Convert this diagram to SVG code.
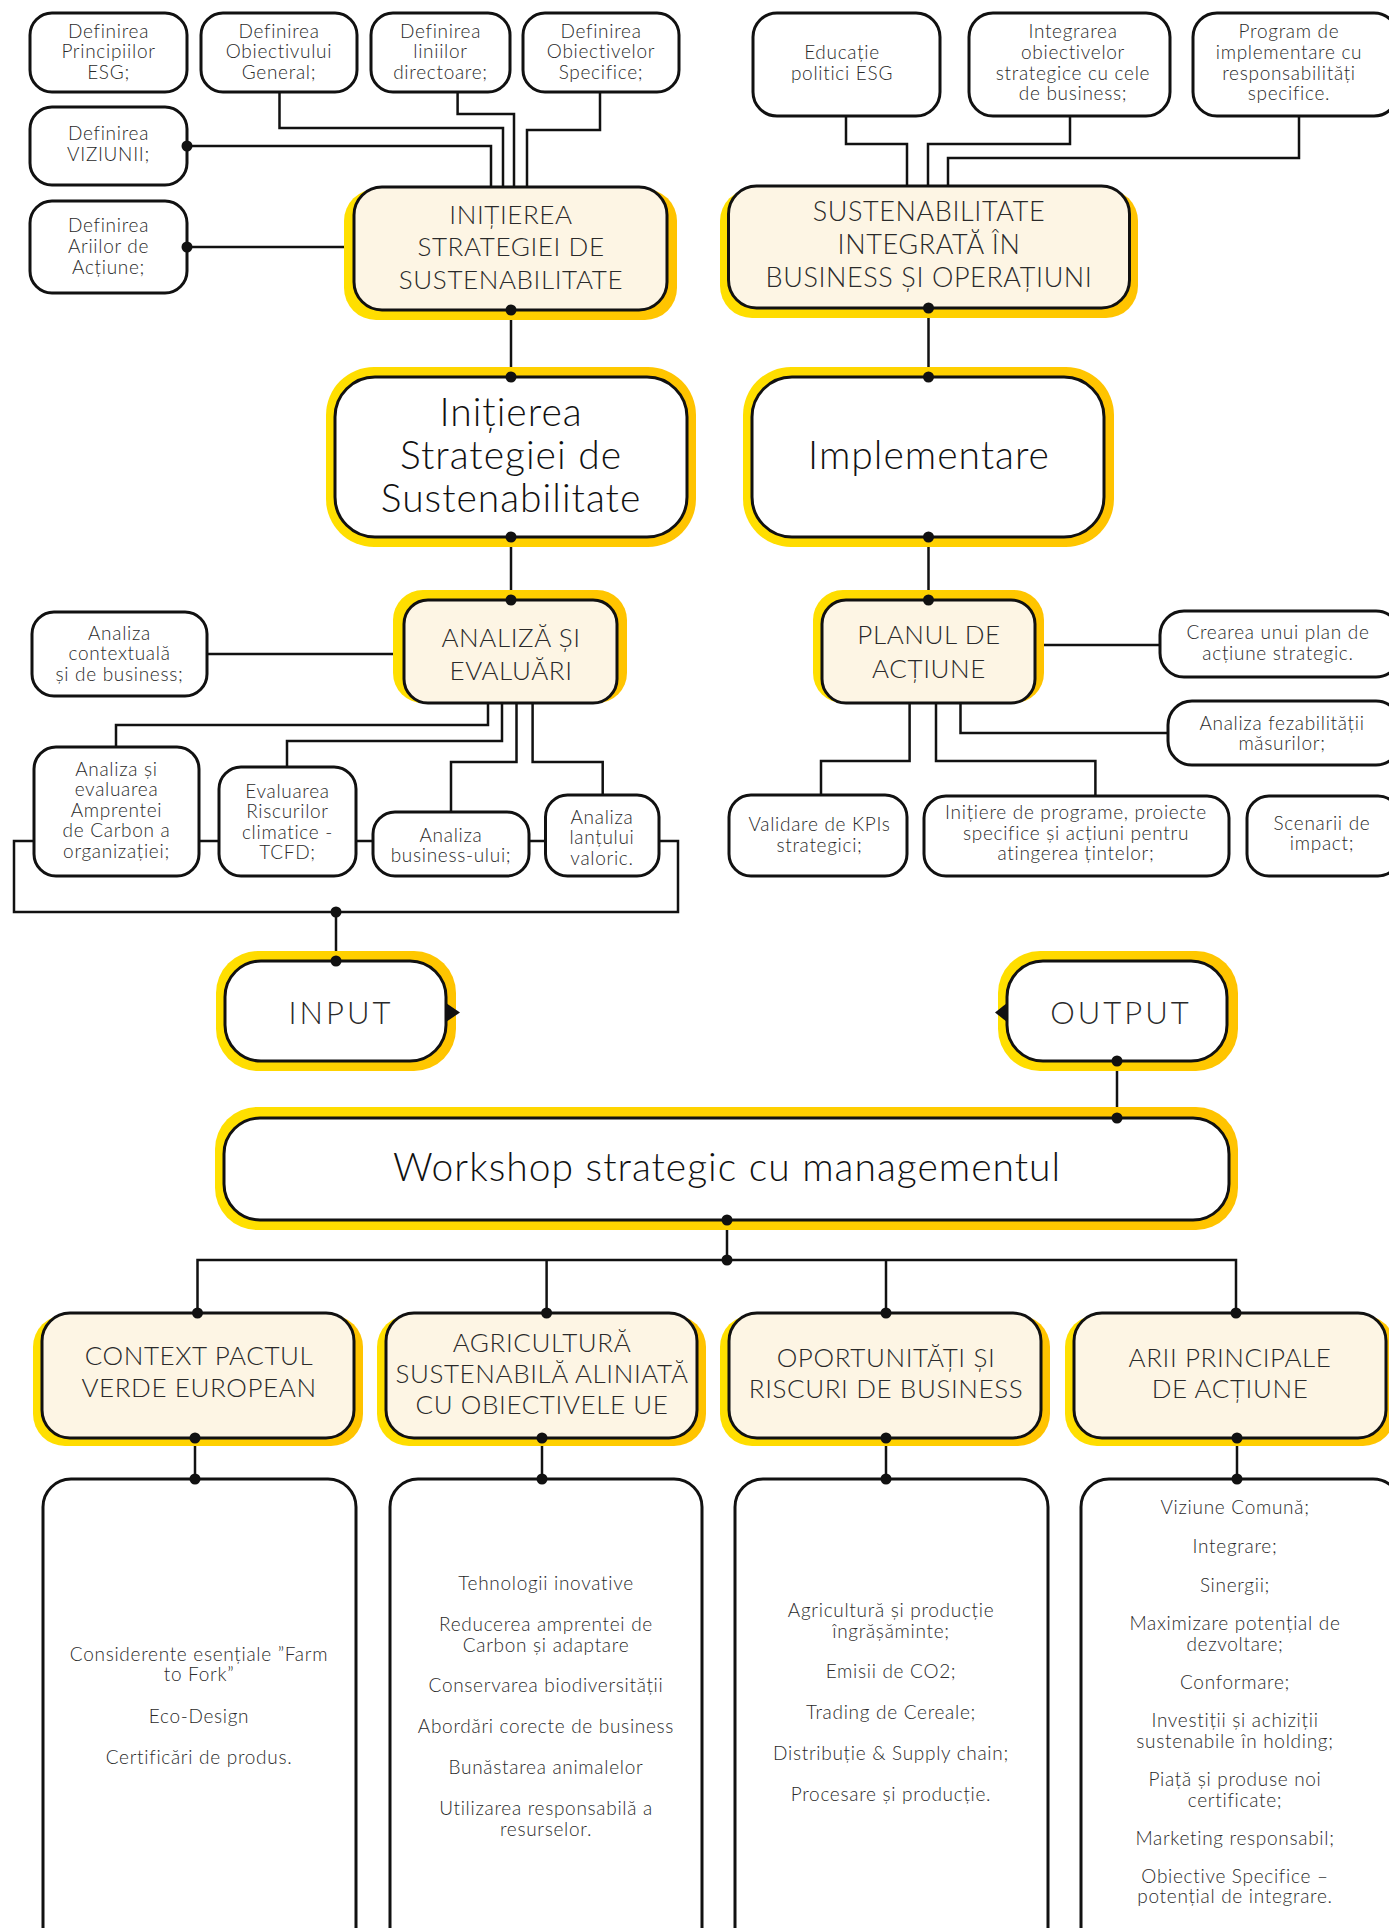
<svg xmlns="http://www.w3.org/2000/svg" width="1389" height="1928" viewBox="0 0 1389 1928">
<defs>
<linearGradient id="yg" x1="0" y1="0" x2="1" y2="0">
<stop offset="0" stop-color="#FFE000"/>
<stop offset="1" stop-color="#FFC300"/>
</linearGradient>
<style>
.box{fill:#fff;stroke:#111;stroke-width:3}
.cat{fill:#FDF5E4;stroke:#111;stroke-width:3}
.glow{fill:url(#yg)}
.t{font-family:Lato,'Noto Sans',sans-serif;font-weight:300;fill:#2a2a2a;text-anchor:middle;dominant-baseline:central}
.s{font-size:19px;letter-spacing:0.7px}
.m{font-size:26px;letter-spacing:0.6px}
.l{font-size:39px;letter-spacing:1px;fill:#111}
.io{font-size:31px;letter-spacing:3px}
.conn{fill:none;stroke:#111;stroke-width:2.5}
.dot{fill:#111}
</style>
</defs>
<rect width="1389" height="1928" fill="#fff"/>

<g id="connectors">
<path class="conn" d="M279.5,92 V128 H503 V187"/>
<path class="conn" d="M457.6,92 V114 H514 V187"/>
<path class="conn" d="M600,92 V130 H527 V187"/>
<path class="conn" d="M187,146 H491 V187"/>
<path class="conn" d="M187,247 H354"/>
<path class="conn" d="M511,310 V377"/>
<path class="conn" d="M511,537 V600"/>
<path class="conn" d="M846,116 V144 H907 V185"/>
<path class="conn" d="M1070,116 V144 H928 V185"/>
<path class="conn" d="M1299,116 V158 H948 V185"/>
<path class="conn" d="M928.5,308 V377"/>
<path class="conn" d="M928.5,537 V600"/>
<path class="conn" d="M207,654 H404"/>
<path class="conn" d="M488,703 V725 H116 V747"/>
<path class="conn" d="M502,703 V741 H287 V767"/>
<path class="conn" d="M516.5,703 V762 H451 V812"/>
<path class="conn" d="M532.6,703 V762 H602.7 V795"/>
<path class="conn" d="M14,841 H678 V912 H14 Z"/>
<path class="conn" d="M336,912 V961"/>
<path class="conn" d="M1035,645 H1160"/>
<path class="conn" d="M960.5,703 V733 H1168"/>
<path class="conn" d="M909.6,703 V761 H821 V795"/>
<path class="conn" d="M936,703 V761 H1095.4 V796"/>
<path class="conn" d="M1117,1061 V1118"/>
<path class="conn" d="M727,1220 V1260"/>
<path class="conn" d="M197.5,1313 V1260 H1236 V1313"/>
<path class="conn" d="M546.6,1260 V1313"/>
<path class="conn" d="M886,1260 V1313"/>
<path class="conn" d="M195,1438 V1479"/>
<path class="conn" d="M542,1438 V1479"/>
<path class="conn" d="M886,1438 V1479"/>
<path class="conn" d="M1237,1438 V1479"/>
</g>

<g id="n-princ"><rect class="box" x="30" y="13" width="157" height="79" rx="22"/>
<text class="t s"><tspan x="108.5" y="29.5">Definirea</tspan><tspan x="108.5" y="50">Principiilor</tspan><tspan x="108.5" y="70.5">ESG;</tspan></text></g>
<g id="n-obgen"><rect class="box" x="201" y="13" width="156" height="79" rx="22"/>
<text class="t s"><tspan x="279" y="29.5">Definirea</tspan><tspan x="279" y="50">Obiectivului</tspan><tspan x="279" y="70.5">General;</tspan></text></g>
<g id="n-linii"><rect class="box" x="371" y="13" width="139" height="79" rx="22"/>
<text class="t s"><tspan x="440.5" y="29.5">Definirea</tspan><tspan x="440.5" y="50">liniilor</tspan><tspan x="440.5" y="70.5">directoare;</tspan></text></g>
<g id="n-obspec"><rect class="box" x="523" y="13" width="156" height="79" rx="22"/>
<text class="t s"><tspan x="601" y="29.5">Definirea</tspan><tspan x="601" y="50">Obiectivelor</tspan><tspan x="601" y="70.5">Specifice;</tspan></text></g>
<g id="n-viziune"><rect class="box" x="30" y="107" width="157" height="78" rx="22"/>
<text class="t s"><tspan x="108.5" y="132">Definirea</tspan><tspan x="108.5" y="152.5">VIZIUNII;</tspan></text></g>
<g id="n-arii"><rect class="box" x="30" y="201" width="157" height="92" rx="22"/>
<text class="t s"><tspan x="108.5" y="224">Definirea</tspan><tspan x="108.5" y="245">Ariilor de</tspan><tspan x="108.5" y="265.5">Acțiune;</tspan></text></g>

<g id="n-initierea-caps"><rect class="glow" x="344" y="189" width="333" height="131" rx="32"/>
<rect class="cat" x="354" y="187" width="313" height="123" rx="28"/>
<text class="t m"><tspan x="511" y="214">INIȚIEREA</tspan><tspan x="511" y="246">STRATEGIEI DE</tspan><tspan x="511" y="279">SUSTENABILITATE</tspan></text></g>

<g id="n-educatie"><rect class="box" x="753" y="13" width="187" height="103" rx="24"/>
<text class="t s"><tspan x="842" y="51">Educație</tspan><tspan x="842" y="71.5">politici ESG</tspan></text></g>
<g id="n-integrarea"><rect class="box" x="969" y="13" width="201" height="103" rx="24"/>
<text class="t s"><tspan x="1073" y="29.5">Integrarea</tspan><tspan x="1073" y="50.5">obiectivelor</tspan><tspan x="1073" y="71.5">strategice cu cele</tspan><tspan x="1073" y="92">de business;</tspan></text></g>
<g id="n-program"><rect class="box" x="1193" y="13" width="205" height="103" rx="24"/>
<text class="t s"><tspan x="1289" y="29.5">Program de</tspan><tspan x="1289" y="50.5">implementare cu</tspan><tspan x="1289" y="71.5">responsabilități</tspan><tspan x="1289" y="92">specifice.</tspan></text></g>

<g id="n-sust"><rect class="glow" x="720" y="189" width="418" height="129" rx="32"/>
<rect class="cat" x="728.5" y="186" width="401" height="122" rx="28"/>
<text class="t m" style="font-size:27px"><tspan x="929" y="210">SUSTENABILITATE</tspan><tspan x="929" y="243">INTEGRATĂ ÎN</tspan><tspan x="929" y="276">BUSINESS ȘI OPERAȚIUNI</tspan></text></g>

<g id="n-initierea-big"><rect class="glow" x="326" y="367" width="370" height="180" rx="48"/>
<rect class="box" x="335" y="377" width="352" height="160" rx="40"/>
<text class="t l"><tspan x="511" y="411">Inițierea</tspan><tspan x="511" y="454">Strategiei de</tspan><tspan x="511" y="497">Sustenabilitate</tspan></text></g>

<g id="n-implementare"><rect class="glow" x="743" y="367" width="371" height="180" rx="48"/>
<rect class="box" x="752" y="377" width="352" height="160" rx="40"/>
<text class="t l" x="929" y="454">Implementare</text></g>

<g id="n-analiza"><rect class="glow" x="393" y="590" width="234" height="113" rx="30"/>
<rect class="cat" x="404" y="600" width="213" height="103" rx="24"/>
<text class="t m"><tspan x="511" y="637">ANALIZĂ ȘI</tspan><tspan x="511" y="670">EVALUĂRI</tspan></text></g>

<g id="n-contextuala"><rect class="box" x="32" y="612" width="175" height="84" rx="22"/>
<text class="t s"><tspan x="119.5" y="631.5">Analiza</tspan><tspan x="119.5" y="652">contextuală</tspan><tspan x="119.5" y="672.5">și de business;</tspan></text></g>
<g id="n-amprenta"><rect class="box" x="34" y="747" width="165" height="129" rx="22"/>
<text class="t s"><tspan x="116.5" y="767.5">Analiza și</tspan><tspan x="116.5" y="788">evaluarea</tspan><tspan x="116.5" y="808.5">Amprentei</tspan><tspan x="116.5" y="829">de Carbon a</tspan><tspan x="116.5" y="849.5">organizației;</tspan></text></g>
<g id="n-riscuri"><rect class="box" x="219" y="767" width="137" height="109" rx="22"/>
<text class="t s"><tspan x="287.5" y="789.5">Evaluarea</tspan><tspan x="287.5" y="810">Riscurilor</tspan><tspan x="287.5" y="830.5">climatice -</tspan><tspan x="287.5" y="851">TCFD;</tspan></text></g>
<g id="n-business"><rect class="box" x="373" y="812" width="156" height="64" rx="22"/>
<text class="t s"><tspan x="451" y="833.5">Analiza</tspan><tspan x="451" y="854">business-ului;</tspan></text></g>
<g id="n-lant"><rect class="box" x="545.5" y="795" width="113.5" height="81" rx="22"/>
<text class="t s"><tspan x="602" y="815.5">Analiza</tspan><tspan x="602" y="836">lanțului</tspan><tspan x="602" y="856.5">valoric.</tspan></text></g>

<g id="n-planul"><rect class="glow" x="813" y="590" width="231" height="113" rx="30"/>
<rect class="cat" x="822" y="600" width="213" height="103" rx="24"/>
<text class="t m"><tspan x="929" y="634">PLANUL DE</tspan><tspan x="929" y="668">ACȚIUNE</tspan></text></g>

<g id="n-crearea"><rect class="box" x="1160" y="611" width="240" height="66" rx="24"/>
<text class="t s"><tspan x="1278" y="631">Crearea unui plan de</tspan><tspan x="1278" y="651.5">acțiune strategic.</tspan></text></g>
<g id="n-fezab"><rect class="box" x="1168" y="701" width="232" height="64" rx="24"/>
<text class="t s"><tspan x="1282" y="721.5">Analiza fezabilității</tspan><tspan x="1282" y="742">măsurilor;</tspan></text></g>
<g id="n-kpi"><rect class="box" x="729" y="795" width="178" height="81" rx="22"/>
<text class="t s"><tspan x="819.5" y="823">Validare de KPIs</tspan><tspan x="819.5" y="843.5">strategici;</tspan></text></g>
<g id="n-initiere"><rect class="box" x="924" y="796" width="305" height="80" rx="22"/>
<text class="t s"><tspan x="1076" y="811">Inițiere de programe, proiecte</tspan><tspan x="1076" y="831.5">specifice și acțiuni pentru</tspan><tspan x="1076" y="852">atingerea țintelor;</tspan></text></g>
<g id="n-scenarii"><rect class="box" x="1247" y="796" width="153" height="80" rx="22"/>
<text class="t s"><tspan x="1322" y="821.5">Scenarii de</tspan><tspan x="1322" y="842">impact;</tspan></text></g>

<g id="n-input"><rect class="glow" x="216" y="951" width="240" height="120" rx="42"/>
<rect class="box" x="225" y="961" width="221" height="100" rx="36"/>
<path class="dot" d="M446,1003 L460,1012.5 L446,1022 Z"/>
<text class="t io" x="341" y="1012">INPUT</text></g>
<g id="n-output"><rect class="glow" x="998" y="951" width="240" height="120" rx="42"/>
<rect class="box" x="1007" y="961" width="220" height="100" rx="36"/>
<path class="dot" d="M1007,1003 L995,1012.5 L1007,1022 Z"/>
<text class="t io" x="1121" y="1012">OUTPUT</text></g>

<g id="n-workshop"><rect class="glow" x="215" y="1107" width="1023" height="123" rx="42"/>
<rect class="box" x="224" y="1118" width="1005" height="102" rx="36"/>
<text class="t l" x="727" y="1166">Workshop strategic cu managementul</text></g>

<g id="n-context"><rect class="glow" x="33" y="1315" width="330" height="131" rx="32"/>
<rect class="cat" x="42" y="1313" width="312" height="125" rx="28"/>
<text class="t m"><tspan x="199" y="1355">CONTEXT PACTUL</tspan><tspan x="199" y="1387">VERDE EUROPEAN</tspan></text></g>
<g id="n-agri"><rect class="glow" x="377" y="1315" width="329" height="131" rx="32"/>
<rect class="cat" x="386" y="1313" width="311" height="125" rx="28"/>
<text class="t m"><tspan x="542" y="1342">AGRICULTURĂ</tspan><tspan x="542" y="1373">SUSTENABILĂ ALINIATĂ</tspan><tspan x="542" y="1404">CU OBIECTIVELE UE</tspan></text></g>
<g id="n-oport"><rect class="glow" x="720" y="1315" width="330" height="131" rx="32"/>
<rect class="cat" x="729" y="1313" width="312" height="125" rx="28"/>
<text class="t m"><tspan x="886" y="1357">OPORTUNITĂȚI ȘI</tspan><tspan x="886" y="1388">RISCURI DE BUSINESS</tspan></text></g>
<g id="n-ariip"><rect class="glow" x="1065" y="1315" width="330" height="131" rx="32"/>
<rect class="cat" x="1074" y="1313" width="312" height="125" rx="28"/>
<text class="t m"><tspan x="1230" y="1357">ARII PRINCIPALE</tspan><tspan x="1230" y="1388">DE ACȚIUNE</tspan></text></g>

<g id="n-list-context"><rect class="box" x="43" y="1479" width="313" height="480" rx="28"/>
<text class="t s"><tspan x="199" y="1652.5">Considerente esențiale ”Farm</tspan><tspan x="199" y="1673">to Fork”</tspan><tspan x="199" y="1715">Eco-Design</tspan><tspan x="199" y="1756">Certificări de produs.</tspan></text></g>
<g id="n-list-agri"><rect class="box" x="390" y="1479" width="312" height="480" rx="28"/>
<text class="t s"><tspan x="546" y="1582">Tehnologii inovative</tspan><tspan x="546" y="1623">Reducerea amprentei de</tspan><tspan x="546" y="1643.5">Carbon și adaptare</tspan><tspan x="546" y="1683.5">Conservarea biodiversității</tspan><tspan x="546" y="1725">Abordări corecte de business</tspan><tspan x="546" y="1766">Bunăstarea animalelor</tspan><tspan x="546" y="1807">Utilizarea responsabilă a</tspan><tspan x="546" y="1827.5">resurselor.</tspan></text></g>
<g id="n-list-oport"><rect class="box" x="735" y="1479" width="313" height="480" rx="28"/>
<text class="t s"><tspan x="891" y="1609">Agricultură și producție</tspan><tspan x="891" y="1629.5">îngrășăminte;</tspan><tspan x="891" y="1669.5">Emisii de CO2;</tspan><tspan x="891" y="1711">Trading de Cereale;</tspan><tspan x="891" y="1752">Distribuție &amp; Supply chain;</tspan><tspan x="891" y="1792.5">Procesare și producție.</tspan></text></g>
<g id="n-list-arii"><rect class="box" x="1081" y="1479" width="320" height="480" rx="28"/>
<text class="t s"><tspan x="1235" y="1506">Viziune Comună;</tspan><tspan x="1235" y="1545">Integrare;</tspan><tspan x="1235" y="1584">Sinergii;</tspan><tspan x="1235" y="1622">Maximizare potențial de</tspan><tspan x="1235" y="1642.5">dezvoltare;</tspan><tspan x="1235" y="1680.5">Conformare;</tspan><tspan x="1235" y="1719">Investiții și achiziții</tspan><tspan x="1235" y="1739.5">sustenabile în holding;</tspan><tspan x="1235" y="1778">Piață și produse noi</tspan><tspan x="1235" y="1798.5">certificate;</tspan><tspan x="1235" y="1836.5">Marketing responsabil;</tspan><tspan x="1235" y="1874.5">Obiective Specifice –</tspan><tspan x="1235" y="1895">potențial de integrare.</tspan></text></g>

<g id="connector-dots" class="dot">
<circle cx="187" cy="146" r="5.5"/>
<circle cx="187" cy="247" r="5.5"/>
<circle cx="511" cy="310" r="5.5"/>
<circle cx="511" cy="377" r="5.5"/>
<circle cx="511" cy="537" r="5.5"/>
<circle cx="511" cy="600" r="5.5"/>
<circle cx="928.5" cy="308" r="5.5"/>
<circle cx="928.5" cy="377" r="5.5"/>
<circle cx="928.5" cy="537" r="5.5"/>
<circle cx="928.5" cy="600" r="5.5"/>
<circle cx="336" cy="912" r="5.5"/>
<circle cx="336" cy="961" r="5.5"/>
<circle cx="1117" cy="1061" r="5.5"/>
<circle cx="1117" cy="1118" r="5.5"/>
<circle cx="727" cy="1220" r="5.5"/>
<circle cx="727" cy="1260" r="5.5"/>
<circle cx="197.5" cy="1313" r="5.5"/>
<circle cx="546.6" cy="1313" r="5.5"/>
<circle cx="886" cy="1313" r="5.5"/>
<circle cx="1236" cy="1313" r="5.5"/>
<circle cx="195" cy="1438" r="5.5"/>
<circle cx="542" cy="1438" r="5.5"/>
<circle cx="886" cy="1438" r="5.5"/>
<circle cx="1237" cy="1438" r="5.5"/>
<circle cx="195" cy="1479" r="5.5"/>
<circle cx="542" cy="1479" r="5.5"/>
<circle cx="886" cy="1479" r="5.5"/>
<circle cx="1237" cy="1479" r="5.5"/>
</g>
</svg>
